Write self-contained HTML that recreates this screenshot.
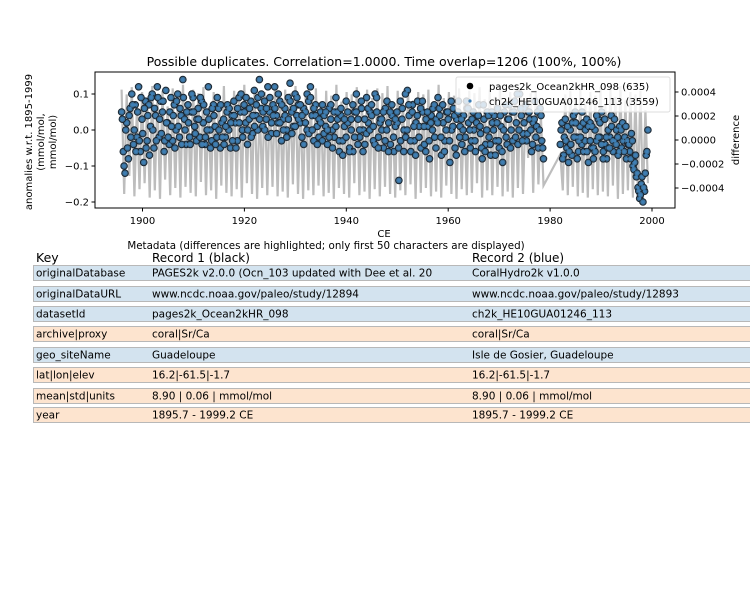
<!DOCTYPE html>
<html><head><meta charset="utf-8"><style>
body{margin:0;width:750px;height:600px;background:#fff;overflow:hidden;font-family:"DejaVu Sans","Liberation Sans",sans-serif;}
svg{position:absolute;left:0;top:0}
text{font-family:"DejaVu Sans","Liberation Sans",sans-serif;fill:#000}
</style></head><body>
<svg id="chart" width="750" height="600"></svg>
<script>
const seg1Values=[.05,-.06,-.12,.02,-.08,.06,.10,-.04,.07,-.02,.12,-.06,.03,-.09,.08,-.03,.07,.01,.10,-.05,.04,.12,-.02,.08,.05,-.06,.11,.02,-.04,.09,-.03,.07,0,.10,-.02,.04,.14,.03,-.04,.07,-.02,.05,.09,.01,-.03,.06,-.02,.08,.02,-.04,.05,.12,0,-.03,.07,.01,-.02,.06,-.05,.02,.03,-.02,.05,0,-.05,.04,.08,.02,-.03,.09,.05,0,.07,.02,-.04,.03,.08,-.01,.11,.04,0,.14,.06,.01,.08,.03,.12,.05,-.01,.07,.12,.04,.02,.08,-.03,.03,.06,0,.09,.13,.05,.01,.10,.04,.07,.02,-.02,.06,.05,0,.08,.12,.04,-.03,.07,.01,-.02,.05,-.03,.04,.01,-.04,.06,.03,0,-.02,.09,.03,-.06,.04,-.07,.01,.08,.02,-.05,0,-.06,.05,.10,.03,-.02,.06,0,-.04,.09,.02,.05,.04,-.03,.10,.05,-.02,.03,0,-.05,.06,.08,.02,-.04,.04,-.06,.01,.02,-.14,-.03,.06,0,-.02,.11,.04,-.06,.07,-.03,.02,.08,.01,-.05,.05,-.04,.03,.01,-.08,.04,.06,-.02,.03,.09,.04,-.07,.02,-.03,.05,.03,-.09,0,.06,-.05,.03,.08,.01,-.04,.04,-.02,.06,.02,-.05,.03,0,-.06,.04,.07,-.01,-.08,.03,-.04,.05,-.02,-.07,.02,.04,-.03,.06,-.05,.01,-.09,.05,-.02,.03,.07,0,-.03,.08,.02,-.04,.10,.04,-.01,.06,-.03,.05,.03,-.06,.02,.08,.01,-.05,.06,-.03,-.08];
const seg1ValuesB=[.03,-.10,0,-.05,.04,-.02,.07,0,-.06,.05,-.03,.09,-.01,.06,-.05,.04,-.07,.09,0,.06,-.03,.09,.03,-.01,.08,-.03,.02,-.02,.05,.01,.04,-.05,.08,.01,.06,-.04,.09,0,.05,.02,-.04,.10,.05,-.01,.03,.03,.09,-.04,.07,-.02,0,.03,-.05,.06,.04,-.04,.09,0,.07,-.02,-.04,.01,.07,.06,.02,-.03,.04,-.05,.06,.02,.10,-.02,.05,.09,0,.06,-.02,.04,.01,.07,.09,.03,.10,.05,0,.06,-.02,.09,.02,.04,.06,-.01,.10,.02,.07,0,.04,-.02,.03,.08,-.01,.06,.01,.09,.03,.07,.04,-.04,.02,.10,-.01,.09,0,.06,.04,-.04,.03,.02,.07,-.01,.05,0,-.02,.07,-.05,.05,.01,.05,-.03,.06,-.03,.03,-.02,.05,-.06,.03,.07,-.02,.05,-.04,0,.08,-.06,.03,-.01,.06,0,.07,.01,-.04,.09,-.05,.02,.03,.05,-.03,0,-.06,.05,.07,-.02,.03,.05,-.05,.08,.03,-.06,.10,0,.07,-.03,.05,.01,-.07,.04,-.02,.06,.08,.01,-.06,.05,-.03,.02,0,.07,-.05,.02,.06,-.02,.07,-.06,0,.05,-.03,.08,.01,.04,-.07,.05,-.02,.03,0,-.06,.08,.06,0,-.03,.05,-.03,.02,.04,.01,-.05,.07,-.06,0,.04,-.04,.05,0,-.07,.02,-.03,.04,-.06,0,.07,-.04,.03,-.05,.05,.05,-.02,.10,0,.06,-.03,.02,.07,-.01,.05,0,-.04,.03,-.02,.05,0,.04,-.05];
const seg2Values=[-.04,.02,-.07,.03,-.05,-.09,0,-.07,.04,.05,-.02,-.06,.01,-.04,.02,-.03,.03,-.09,.02,-.05,-.08,0,-.03,.03,-.02,.05,-.06,-.04,-.08,0,-.02,.01,-.06,-.03,0,-.07,.01,-.05,-.03,-.02,-.08,-.04,-.06,-.01,-.10,-.09,-.13,-.16,-.19,-.15,-.20,-.17,-.07,0];
const seg2ValuesB=[0,-.08,-.02,-.03,.01,-.06,-.04,.02,-.02,.02,-.08,-.03,-.02,.05,-.06,0,-.06,.01,-.03,.01,-.05,-.06,.04,-.02,.02,-.04,-.08,.03,-.02,-.05,-.05,.04,-.03,.03,-.04,-.02,-.06,0,.02,-.06,.01,-.03,-.04,-.08,-.03,-.11,-.07,-.12,-.17,-.18,-.13,-.16,-.12,-.06];
const seg1Span=[1895.9,1978.7];
const seg1SpanB=[1896.05,1978.55];
const seg2Span=[1982.0,1999.2];
const seg2SpanB=[1982.15,1999.0];
const diff1E4=[4.2,-4.5,3.8,-3.0,4.4,-4.7,2.9,-4.1,4.0,-3.6,3.1,-4.8,4.5,-4.2,3.6,-4.9,4.1,-3.3,2.8,-4.6,4.3,-4.0,3.5,-4.8,4.6,-3.9,3.0,-4.4,4.2,-4.7,3.9,-3.5,4.4,-4.6,2.7,-4.2,4.0,-4.9,3.6,-3.8,4.5,-4.4,3.2,-4.7,4.1,-4.1,3.8,-4.8,4.6,-3.6,3.4,-4.5,4.3,-4.9,2.9,-4.0,4.0,-4.6,3.7,-3.9,4.4,-4.7,3.3,-4.3,4.2,-4.8,3.9,-3.7,4.5,-4.5,3.1,-4.9,4.0,-4.2,3.6,-4.6,4.3,-3.8,2.8,-4.7,4.1,-4.4,3.7,-4.9,4.6,-4.0,3.2,-4.5,4.0,-4.8,3.8,-3.6,4.4,-4.6,3.0,-4.3,4.2,-4.9,3.5,-4.1,4.3,-4.7,3.9,-3.9,4.5,-4.5,2.9,-4.8,4.1,-4.2,3.6,-4.6,4.4,-3.7,3.3,-4.9,4.0,-4.4,3.8,-4.0,4.2,-4.7,3.1,-4.3,4.6,-4.8,3.5,-3.8,4.0,-4.5,3.7,-4.9,4.3,-4.1,3.0,-4.6,4.1,-4.4,3.9,-3.6,4.4,-4.8,3.4,-4.2,4.2,-4.6,3.6,-3.9,4.5,-4.7,3.2,-4.3,4.0,-4.8,3.8,-4.0,4.3,-4.5,2.6,-1.5,3.9,-4.4,4.1,-3.7,2.0,-3.8];
const diff2E4=[-1.2,-4.2,3.8,-4.6,4.1,-3.9,3.5,-4.7,4.3,-4.4,3.2,-4.8,4.0,-4.1,3.7,-4.6,4.4,-4.3,3.0,-4.7,4.2,-3.8,3.6,-4.9,4.5,-4.5,3.3,-4.2,4.0,-4.8,3.8,-4.4,4.1,-4.9,2.5,-3.6];
const xTicks=[1900,1920,1940,1960,1980,2000];
const yTicks=[-0.2,-0.1,0.0,0.1];
const yTickLabels=["−0.2","−0.1","0.0","0.1"];
const y2Ticks=[-0.0004,-0.0002,0,0.0002,0.0004];
const y2TickLabels=["−0.0004","−0.0002","0.0000","0.0002","0.0004"];

const svg=document.getElementById('chart');
const NS='http://www.w3.org/2000/svg';
const L=95,R=675,T=72,B=208;
const xs=v=>142.5+(v-1900)*5.095;
const ys=v=>130-v*360;
const y2s=v=>140-v*120000;
function mk(tag,attrs,parent){const e=document.createElementNS(NS,tag);for(const k in attrs)e.setAttribute(k,attrs[k]);(parent||svg).appendChild(e);return e;}
function txt(x,y,s,opt){const e=mk('text',Object.assign({x:x,y:y,'font-size':11},opt||{}));e.textContent=s;return e;}
function times(n,span){const out=[];for(let i=0;i<n;i++)out.push(span[0]+(span[1]-span[0])*i/(n-1));return out;}

// difference line
const d1t=times(diff1E4.length,seg1Span),d2t=times(diff2E4.length,seg2Span);
let pts=[];
diff1E4.forEach((d,i)=>pts.push(xs(d1t[i]).toFixed(1)+','+y2s(d*1e-4).toFixed(1)));
diff2E4.forEach((d,i)=>pts.push(xs(d2t[i]).toFixed(1)+','+y2s(d*1e-4).toFixed(1)));
const dl=mk('polyline',{points:pts.join(' '),fill:'none',stroke:'#bdbdbd','stroke-width':2.2});



// points
const g1=mk('g',{});


const allT=times(seg1Values.length,seg1Span).concat(times(seg1ValuesB.length,seg1SpanB),times(seg2Values.length,seg2Span),times(seg2ValuesB.length,seg2SpanB));
const allV=seg1Values.concat(seg1ValuesB,seg2Values,seg2ValuesB);
allV.forEach((v,i)=>{
  const c=mk('circle',{cx:xs(allT[i]),cy:ys(v),r:3.3,fill:'#3d6f96',stroke:'#1a2530','stroke-width':1},g1);
  
  
});
allV.forEach((v,i)=>{
  const c=mk('circle',{cx:xs(allT[i]),cy:ys(v),r:1.6,fill:'#3f7fb5'},g1);
  
  
});

// frame
const fr=mk('rect',{x:L,y:T,width:R-L,height:B-T,fill:'none',stroke:'#000','stroke-width':1});



xTicks.forEach(t=>{const x=xs(t);mk('line',{x1:x,x2:x,y1:B,y2:B+3.5,stroke:'#000'});
  const e=txt(x,B+16,String(t),{'text-anchor':'middle','font-size':10});
  
  });
yTicks.forEach((t,i)=>{const y=ys(t);mk('line',{x1:L-3.5,x2:L,y1:y,y2:y,stroke:'#000'});
  const e=txt(L-6,y+3.5,yTickLabels[i],{'text-anchor':'end','font-size':10});
  
  });
y2Ticks.forEach((t,i)=>{const y=y2s(t);mk('line',{x1:R,x2:R+3.5,y1:y,y2:y,stroke:'#000'});
  const e=txt(R+6,y+3.5,y2TickLabels[i],{'font-size':10});
  
  });

// legend
const lg=mk('g',{});


mk('rect',{x:456,y:77,width:214,height:35,rx:2,fill:'#fff','fill-opacity':0.8,stroke:'#ddd'},lg);
mk('circle',{cx:470,cy:86,r:3.3,fill:'#000'},lg);
mk('circle',{cx:470,cy:101,r:1.6,fill:'#3f7fb5'},lg);
let e;
e=txt(489,90,'pages2k_Ocean2kHR_098 (635)',{'font-size':10});lg.appendChild(e);


e=txt(489,105,'ch2k_HE10GUA01246_113 (3559)',{'font-size':10});lg.appendChild(e);



e=txt(384,66,'Possible duplicates. Correlation=1.0000. Time overlap=1206 (100%, 100%)',{'text-anchor':'middle','font-size':12.5});

e=txt(384,237,'CE',{'text-anchor':'middle','font-size':10});

const yl=mk('text',{transform:'translate(32,142) rotate(-90)','text-anchor':'middle','font-size':10});

['anomalies w.r.t. 1895-1999','(mmol/mol,','mmol/mol)'].forEach((s,i)=>{const ts=mk('tspan',{x:0,y:i*12},yl);ts.textContent=s;});
e=txt(0,0,'difference',{transform:'translate(739,140) rotate(-90)','text-anchor':'middle','font-size':10});


// metadata table
e=txt(326,249,'Metadata (differences are highlighted; only first 50 characters are displayed)',{'text-anchor':'middle','font-size':10.3});

e=txt(36,262,'Key',{'font-size':12.5});
e=txt(152,262,'Record 1 (black)',{'font-size':12});
e=txt(472,262,'Record 2 (blue)',{'font-size':12});
const rows=[
['originalDatabase','PAGES2k v2.0.0 (Ocn_103 updated with Dee et al. 20','CoralHydro2k v1.0.0',1],
['originalDataURL','www.ncdc.noaa.gov/paleo/study/12894','www.ncdc.noaa.gov/paleo/study/12893',1],
['datasetId','pages2k_Ocean2kHR_098','ch2k_HE10GUA01246_113',1],
['archive|proxy','coral|Sr/Ca','coral|Sr/Ca',0],
['geo_siteName','Guadeloupe','Isle de Gosier, Guadeloupe',1],
['lat|lon|elev','16.2|-61.5|-1.7','16.2|-61.5|-1.7',0],
['mean|std|units','8.90 | 0.06 | mmol/mol','8.90 | 0.06 | mmol/mol',0],
['year','1895.7 - 1999.2 CE','1895.7 - 1999.2 CE',0]];
const rowY=[265,286,306,326,347,367,388,407];
rows.forEach((r,i)=>{
  const g=mk('g',{});
  
  
  const y=rowY[i];
  mk('rect',{x:33.5,y:y+0.5,width:720,height:15,fill:r[3]?'#d3e3ef':'#fde4cf',stroke:'#b8b8b8','stroke-width':1},g);
  [36,152,472].forEach((x,j)=>{const t=txt(x,y+11.5,r[j],{'font-size':10.5});g.appendChild(t);});
});
</script>
</body></html>
